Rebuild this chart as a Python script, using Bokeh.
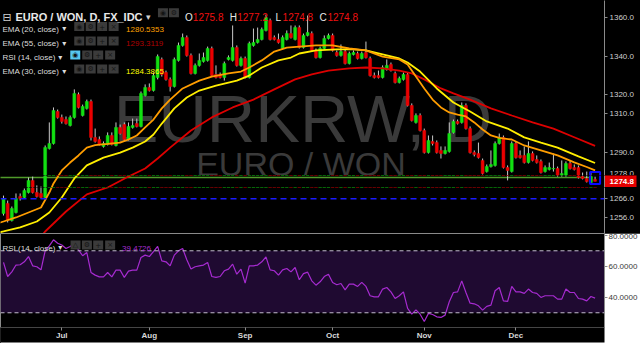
from bokeh.plotting import figure
from bokeh.layouts import column
from bokeh.models import (Range1d, FixedTicker, PrintfTickFormatter, Label, Span,
                          BoxAnnotation, ColumnDataSource)
from bokeh.core.properties import value
from bokeh.embed import file_html
from bokeh.resources import INLINE

# ---------------- data ----------------
opens = [1258.1,1263.3,1254.4,1258.6,1266.9,1266.4,1269.0,1275.3,1269.0,1268.5,
         1266.4,1291.9,1294.5,1311.2,1308.1,1307.0,1303.9,1308.1,1320.1,1309.1,
         1312.8,1316.4,1297.7,1296.6,1293.0,1294.0,1298.7,1293.5,1302.9,1304.4,
         1296.6,1302.9,1304.9,1303.4,1319.5,1323.7,1322.1,1328.9,1338.3,1331.5,
         1327.9,1324.2,1337.8,1345.6,1349.7,1340.4,1331.0,1335.2,1337.2,1337.8,
         1344.0,1330.5,1330.5,1328.9,1338.3,1337.8,1344.5,1335.2,1338.8,1328.9,
         1345.6,1347.1,1348.7,1353.4,1358.6,1349.7,1348.7,1344.0,1348.7,1351.8,
         1348.7,1354.9,1344.5,1350.8,1351.8,1343.0,1339.3,1344.0,1349.2,1350.8,
         1341.9,1340.4,1342.4,1336.2,1340.9,1341.4,1338.8,1341.9,1338.8,1329.9,
         1329.9,1328.9,1333.1,1335.7,1331.0,1326.3,1327.9,1330.5,1314.3,1305.5,
         1309.1,1301.3,1289.8,1295.6,1295.0,1290.9,1289.3,1290.4,1300.3,1306.0,
         1305.5,1314.3,1302.3,1289.8,1289.3,1285.7,1279.9,1282.5,1283.1,1294.5,
         1297.7,1282.0,1279.9,1294.5,1288.3,1288.3,1284.6,1289.3,1286.2,1285.2,
         1279.9,1281.0,1281.3,1281.5,1277.9,1277.9,1284.1,1282.0,1282.0,1277.3,
         1276.3,1274.2,1275.8]
highs = [1267.4,1264.8,1261.7,1268.5,1268.5,1271.1,1276.8,1277.3,1272.7,1272.1,
         1293.5,1305.5,1313.3,1312.2,1309.6,1308.6,1309.1,1322.7,1321.1,1314.8,
         1317.4,1317.4,1302.3,1298.2,1295.6,1300.3,1300.3,1305.5,1304.4,1305.5,
         1305.5,1307.5,1307.5,1321.6,1325.3,1325.8,1331.5,1340.9,1339.3,1332.5,
         1328.9,1339.3,1347.1,1351.8,1350.8,1341.4,1336.2,1341.4,1341.9,1345.0,
         1345.0,1335.2,1331.5,1337.2,1340.4,1356.0,1345.6,1339.8,1339.8,1347.6,
         1354.4,1354.9,1354.9,1361.7,1359.6,1350.8,1351.8,1350.8,1353.4,1356.0,
         1356.0,1356.0,1351.8,1361.2,1352.9,1344.0,1345.0,1350.8,1351.8,1351.8,
         1343.0,1346.1,1343.5,1342.4,1343.0,1342.4,1342.4,1347.6,1339.8,1331.5,
         1332.5,1335.2,1338.3,1336.7,1332.0,1329.4,1331.5,1331.5,1315.4,1310.2,
         1310.2,1302.3,1298.7,1298.7,1296.1,1293.0,1293.0,1305.5,1307.0,1307.0,
         1315.9,1315.4,1303.4,1290.9,1295.0,1286.7,1283.6,1290.9,1295.6,1299.7,
         1298.7,1283.1,1295.6,1295.6,1290.9,1293.0,1295.6,1290.4,1288.3,1286.2,
         1283.1,1284.6,1289.3,1282.5,1285.7,1285.2,1285.7,1283.6,1283.1,1279.4,
         1279.9,1279.4,1277.2]
lows = [1257.0,1253.4,1253.9,1258.1,1264.8,1265.9,1268.5,1268.5,1266.4,1265.9,
        1265.9,1291.4,1294.0,1307.5,1304.9,1304.4,1303.4,1307.5,1312.8,1308.6,
        1312.2,1296.1,1295.0,1293.5,1292.4,1293.5,1293.5,1293.0,1299.2,1295.6,
        1296.1,1302.3,1302.9,1302.9,1319.0,1321.6,1321.6,1327.9,1329.4,1327.3,
        1321.6,1323.7,1337.2,1345.0,1339.8,1330.5,1330.5,1334.6,1336.7,1337.2,
        1329.4,1328.4,1328.4,1327.3,1337.8,1337.2,1334.6,1334.6,1328.4,1328.4,
        1345.0,1346.6,1348.2,1352.9,1348.2,1348.2,1346.6,1343.5,1348.2,1349.2,
        1348.2,1344.0,1344.0,1350.3,1342.4,1338.8,1338.8,1343.5,1348.7,1342.4,
        1339.8,1339.8,1335.7,1335.7,1340.4,1338.3,1338.3,1338.8,1329.4,1328.4,
        1328.4,1328.4,1332.5,1332.0,1325.8,1325.8,1327.3,1313.8,1306.0,1304.9,
        1300.8,1289.3,1289.3,1293.5,1289.3,1286.7,1288.8,1289.8,1299.7,1304.4,
        1304.9,1301.8,1289.3,1287.8,1286.7,1278.4,1279.4,1282.0,1282.5,1294.0,
        1281.5,1275.3,1279.4,1286.7,1286.7,1284.1,1284.1,1285.2,1284.1,1278.9,
        1279.4,1280.5,1279.9,1277.3,1277.3,1277.3,1281.0,1280.5,1276.3,1275.8,
        1274.2,1273.7,1274.8]
closes = [1265.9,1254.4,1260.7,1265.9,1265.9,1270.0,1275.3,1269.0,1266.9,1266.4,
          1292.4,1294.5,1311.7,1308.1,1306.0,1304.9,1308.1,1320.6,1313.3,1313.8,
          1316.4,1297.7,1295.6,1294.0,1294.5,1298.7,1294.0,1302.9,1299.7,1296.6,
          1303.4,1303.9,1303.4,1320.6,1323.7,1322.1,1329.9,1339.8,1330.5,1327.9,
          1324.2,1338.3,1345.6,1349.7,1340.4,1331.0,1335.2,1337.8,1339.3,1344.0,
          1329.9,1328.9,1328.9,1336.2,1339.3,1344.5,1335.2,1338.8,1328.9,1346.6,
          1347.1,1348.7,1353.9,1360.1,1348.7,1348.7,1347.1,1349.7,1351.8,1349.7,
          1354.9,1344.5,1350.8,1352.3,1343.0,1339.3,1344.0,1349.2,1350.8,1343.0,
          1340.4,1342.4,1336.2,1341.4,1341.9,1338.8,1341.4,1339.3,1329.9,1328.9,
          1328.9,1334.1,1335.2,1332.5,1326.3,1328.4,1330.5,1314.3,1306.5,1309.1,
          1301.3,1289.8,1296.1,1294.5,1289.8,1289.3,1290.9,1299.7,1306.0,1304.9,
          1314.3,1302.3,1289.8,1288.8,1287.2,1278.9,1282.5,1283.6,1294.5,1297.7,
          1282.0,1280.5,1294.5,1287.2,1287.2,1284.6,1289.3,1285.7,1284.6,1279.4,
          1282.0,1282.0,1281.5,1277.9,1278.9,1284.1,1281.5,1281.0,1276.8,1276.3,
          1274.7,1277.3,1274.8]

ema20_idx = [-1,0,3,6,9,11,12,14,16,18,20,22,25,28,30,32,34,36,38,40,43,47,50,54,57,59,62,65,68,71,
             75,79,83,87,91,95,97,99,101,103,105,107,109,111,113,115,117,119,122,125,129,133,137,140,142]
ema20_val = [1253.2,1253.9,1256.0,1258.6,1261.2,1269.0,1273.7,1280.5,1284.6,1288.3,1292.4,1293.7,1294.3,
             1295.0,1296.6,1298.7,1302.9,1307.0,1312.8,1317.4,1323.2,1327.3,1329.4,1331.0,1332.0,1334.1,
             1337.8,1342.4,1344.5,1345.0,1345.6,1345.6,1344.0,1343.0,1339.8,1338.3,1335.7,1329.4,1323.2,
             1317.4,1313.3,1310.7,1309.6,1308.6,1305.5,1301.8,1298.7,1297.4,1296.6,1293.5,1290.9,1288.3,
             1284.7,1282.3,1280.5353]
ema30_idx = [-1,0,4,8,11,14,17,20,24,28,31,34,36,38,41,44,47,51,56,59,62,66,69,71,75,80,84,87,91,95,
             97,100,104,108,112,116,121,125,129,133,138,142]
ema30_val = [1248.2,1248.7,1250.8,1253.9,1258.6,1266.4,1276.3,1283.1,1287.2,1289.8,1292.4,1295.6,1299.2,
             1304.9,1312.8,1318.5,1322.1,1324.7,1327.3,1329.9,1334.1,1337.8,1339.3,1341.4,1343.0,1343.5,
             1343.5,1343.0,1340.9,1338.8,1336.7,1332.0,1323.2,1315.9,1311.2,1306.0,1302.3,1297.7,1295.0,
             1292.4,1287.8,1284.3865]
ema55_idx = [7,10,15,20,25,30,34,37,40,45,50,55,60,65,70,74,78,83,87,91,95,98,101,105,108,112,117,122,
             127,132,137,142]
ema55_val = [1240.4,1248.7,1259.1,1268.0,1271.6,1277.3,1281.5,1286.7,1292.4,1301.3,1308.1,1313.3,1317.4,
             1322.7,1327.9,1330.5,1332.5,1333.6,1334.1,1333.6,1332.5,1331.0,1327.9,1323.2,1320.6,1317.4,
             1312.8,1309.1,1305.5,1302.3,1297.8,1293.3119]

rsi = [62.5,53.4,56.4,60.8,61.0,62.9,66.3,60.3,59.7,57.7,
       70.0,73.2,77.1,74.9,73.7,71.5,72.8,74.5,70.6,66.8,
       68.9,56.0,54.3,53.2,53.2,56.0,53.2,57.5,57.5,52.8,
       56.9,57.5,57.5,65.7,67.2,66.3,69.4,72.8,63.5,62.9,
       60.3,67.2,70.0,71.5,64.2,58.2,59.7,60.3,60.8,62.5,
       53.4,52.8,53.4,57.1,58.2,61.4,54.9,58.2,49.1,60.3,
       60.3,60.8,62.9,66.1,57.7,57.1,54.3,57.7,58.6,56.4,
       59.2,51.3,55.3,56.2,50.6,47.8,50.0,53.4,54.9,49.6,
       48.1,48.9,44.8,48.5,48.5,47.0,49.6,47.0,41.0,40.3,
       40.3,45.3,46.3,43.5,39.2,41.0,43.5,32.8,29.1,31.9,
       29.1,24.4,29.6,28.9,27.4,27.0,28.5,37.1,43.1,43.5,
       50.6,43.1,36.2,35.8,34.5,31.7,34.1,34.9,44.2,46.3,
       37.7,37.3,47.0,43.5,43.5,42.5,45.3,43.1,42.5,39.9,
       41.0,41.0,41.0,38.8,38.8,45.3,43.1,43.1,39.2,38.8,
       37.7,40.5,39.4726]

month_idx = [14, 35, 58, 79, 101, 123]
month_labels = ["Jul", "Aug", "Sep", "Oct", "Nov", "Dec"]
price_ticks = [1256, 1266, 1278, 1290, 1310, 1320, 1340, 1360]
rsi_ticks = [40, 60, 80]
rsi_bands = [30, 70]
support_level = 1276.8
dashed_level = 1265.7

# ---------------- layout constants ----------------
FRAME_W = 606
PRICE_H = 233
BAND_TOP, BAND_BOT = 175, 187          # pixel rows of the last-price band
RSI_H = 110
RSI_FRAME_H = 94
X0, X1 = -0.72, 144.26
PY0, PY1 = 1247.65, 1369.0
RY0, RY1 = 20.5, 81.16

GREEN = "#12e012"
RED = "#ea0000"
FONT = "Liberation Sans"
AX = "#8a8a8a"


def sx(px):
    return X0 + px * (X1 - X0) / FRAME_W


def py(pix):
    return PY1 - pix * (PY1 - PY0) / PRICE_H


def ry(pix):
    return RY1 - (pix - PRICE_H) * (RY1 - RY0) / RSI_FRAME_H


def lbl(fig, x, y, text, size, color, bold=False, font=FONT, align="left",
        baseline="alphabetic", level="overlay"):
    fig.add_layout(Label(x=x, y=y, text=text, text_font=font,
                         text_font_size=f"{size}px", text_color=color,
                         text_font_style="bold" if bold else "normal",
                         text_align=align, text_baseline=baseline, level=level))


idx = list(range(len(closes)))
src = ColumnDataSource(dict(
    x=idx, h=highs, l=lows,
    top=[max(o, c) for o, c in zip(opens, closes)],
    bot=[min(o, c) for o, c in zip(opens, closes)],
    color=[GREEN if c >= o else RED for o, c in zip(opens, closes)],
))
last = idx[-1]
mid = (max(highs[-2:]) + min(lows[-2:])) / 2
x_range = Range1d(X0, X1)


def price_pane(pix_top, pix_bot, ticks, label_bg=None):
    f = figure(width=640, height=pix_bot - pix_top, x_range=x_range,
               y_range=Range1d(py(pix_bot), py(pix_top)),
               output_backend="svg", toolbar_location=None, title=None,
               y_axis_location="right", x_axis_location=None,
               min_border_left=0, min_border_right=34, min_border_top=0, min_border_bottom=0,
               background_fill_color="black", border_fill_color="black", outline_line_color=None,
               styles={"background-color": "black"})
    f.grid.visible = False
    a = f.yaxis[0]
    a.ticker = FixedTicker(ticks=ticks)
    a.formatter = PrintfTickFormatter(format="%.1f")
    a.major_label_text_font = FONT
    a.major_label_text_font_size = "8px"
    a.axis_line_color = AX
    a.major_tick_in = 0
    a.minor_tick_out = 0
    a.minor_tick_in = 0
    a.major_label_standoff = 2
    if label_bg:
        a.background_fill_color = label_bg
        a.major_label_text_color = "white"
        a.major_label_text_font_style = "bold"
        a.major_tick_out = 0
        a.major_label_standoff = 5
    else:
        a.major_label_text_color = "#cfcfcf"
        a.major_tick_line_color = AX
        a.major_tick_out = 3

    f.segment(x0=[-1], y0=[support_level], x1=[141.3], y1=[support_level],
              line_color="#4f9a2a", line_width=1.5)
    f.add_layout(Span(location=dashed_level, dimension="width", line_color="#1a1aff",
                      line_dash="6 4", line_width=1.5))
    f.segment(x0="x", y0="l", x1="x", y1="h", source=src, line_color="#c8c8c8", line_width=1)
    f.vbar(x="x", width=0.7, top="top", bottom="bot", fill_color="color",
           line_color="color", line_width=0.5, source=src)
    f.line(ema55_idx, ema55_val, line_color="#dd0000", line_width=1.8)
    f.line(ema30_idx, ema30_val, line_color="#ffee00", line_width=1.8)
    f.line(ema20_idx, ema20_val, line_color="#ff9d00", line_width=1.8)
    f.rect(x=[last], y=[mid], width=10, height=12, width_units="screen", height_units="screen",
           fill_alpha=0, line_color="#0a0aff", line_width=2)
    return f


top_ticks = [t for t in price_ticks if py(BAND_TOP) <= t]
bot_ticks = [t for t in price_ticks if t <= py(BAND_BOT)]
p_top = price_pane(0, BAND_TOP, top_ticks)
p_band = price_pane(BAND_TOP, BAND_BOT, [closes[-1]], label_bg="#e60000")
p_bot = price_pane(BAND_BOT, PRICE_H, bot_ticks)

p = p_top
# watermark
lbl(p, sx(303.5), py(118), "EURKRW, D", 67, "#3a3a3a", align="center", level="underlay")
lbl(p, sx(301.5), py(163), "EURO / WON", 34, "#3a3a3a", align="center", level="underlay")

# legend rows
lbl(p, sx(2), py(17), "\u229f", 11, "#d0d0d0", font="DejaVu Sans")
lbl(p, sx(15), py(16.7), "EURO / WON, D, FX_IDC", 11, "#e8e8e8", bold=True)
lbl(p, sx(146), py(16), "\u25be", 9, "#d0d0d0", font="DejaVu Sans")
ohlc = [("O", opens[-1], 185, 193), ("H", highs[-1], 230, 237.5),
        ("L", lows[-1], 276, 283), ("C", closes[-1], 320, 328)]
for letter, v, xl, xv in ohlc:
    lbl(p, sx(xl), py(16.7), letter, 10, "#e8e8e8")
    lbl(p, sx(xv), py(16.7), f"{v:.1f}", 10, "#ee1111")

box_x, box_y, box_c, sym_t = [], [], [], []
for cx, s in zip([163, 174], ["\u25c9", "\u2699"]):
    box_x.append(sx(cx)); box_y.append(py(12.3)); box_c.append("#3b3b3b"); sym_t.append(s)

rows = [("EMA (20, close)", ema20_val[-1], "#ffa000", 28.7, [79, 90.5, 102, 113.5], 62),
        ("EMA (55, close)", ema55_val[-1], "#b00000", 43.3, [79, 90.5, 102, 113.5], 62),
        ("RSI (14, close)", None, None, 57.2, [75, 87, 98, 110], 58),
        ("EMA (30, close)", ema30_val[-1], "#ffff00", 71.3, [79, 90.5, 102, 113.5], 62)]
symbols = ["\u25c9", "\u2699", "+", "\u00d7"]
for name, v, col, base, bxs, tri in rows:
    lbl(p, sx(2), py(base), name, 8, "#dcdcdc")
    lbl(p, sx(tri), py(base - 0.5), "\u25be", 8, "#dcdcdc", font="DejaVu Sans")
    for k, (cx, s) in enumerate(zip(bxs, symbols)):
        box_x.append(sx(cx)); box_y.append(py(base - 2.7)); sym_t.append(s)
        box_c.append("#56c8f0" if (v is None and k == 0) else "#3b3b3b")
    if v is not None:
        lbl(p, sx(126), py(base), f"{v:.4f}", 8, col)

bsrc = ColumnDataSource(dict(x=box_x, y=box_y, c=box_c, t=sym_t))
p.rect(x="x", y="y", width=10, height=9, width_units="screen", height_units="screen",
       fill_color="c", line_color=None, source=bsrc)
p.text(x="x", y="y", text="t", source=bsrc, text_font=value("DejaVu Sans"),
       text_font_size=value("7px"), text_color="#141414", text_align="center",
       text_baseline="middle")

# ---------------- RSI pane ----------------
r = figure(width=640, height=RSI_H, x_range=x_range, y_range=Range1d(RY0, RY1),
           output_backend="svg", toolbar_location=None, title=None,
           y_axis_location="right",
           min_border_left=0, min_border_right=34, min_border_top=0, min_border_bottom=16,
           background_fill_color="black", border_fill_color="white",
           outline_line_color=AX)
r.grid.visible = False

r.add_layout(BoxAnnotation(bottom=rsi_bands[0], top=rsi_bands[1], fill_color="#1f0a31",
                           fill_alpha=1, line_color=None, level="underlay"))
for lv in rsi_bands:
    r.add_layout(Span(location=lv, dimension="width", line_color="#c4bccf",
                      line_dash="4 3", line_width=1))
r.line(idx, rsi, line_color="#a62bd0", line_width=1.2)

ry_ax = r.yaxis[0]
ry_ax.ticker = FixedTicker(ticks=rsi_ticks)
ry_ax.formatter = PrintfTickFormatter(format="%.4f")
ry_ax.major_label_text_font = FONT
ry_ax.major_label_text_font_size = "8px"
ry_ax.major_label_text_color = "#3a3a3a"
ry_ax.axis_line_color = AX
ry_ax.major_tick_line_color = AX
ry_ax.major_tick_out = 3
ry_ax.major_tick_in = 0
ry_ax.minor_tick_out = 0
ry_ax.minor_tick_in = 0
ry_ax.major_label_standoff = 1

xa = r.xaxis[0]
xa.ticker = FixedTicker(ticks=month_idx)
xa.major_label_overrides = {i: m for i, m in zip(month_idx, month_labels)}
xa.major_label_text_font = FONT
xa.major_label_text_font_size = "8px"
xa.major_label_text_font_style = "bold"
xa.major_label_text_color = "#d8d8d8"
xa.axis_line_color = None
xa.major_tick_line_color = AX
xa.major_tick_out = 3
xa.major_tick_in = 0
xa.minor_tick_out = 0
xa.minor_tick_in = 0
xa.major_label_standoff = 0
xa.background_fill_color = "black"

# RSI legend
lbl(r, sx(2), ry(247.5), "RSI (14, close)", 8, "#dcdcdc")
lbl(r, sx(58), ry(247), "\u25be", 8, "#dcdcdc", font="DejaVu Sans")
rb_x = [sx(c) for c in [75.3, 86.7, 98, 110]]
rb_y = [ry(244.5)] * 4
rsrc = ColumnDataSource(dict(x=rb_x, y=rb_y, t=["\u25b3", "\u2699", "+", "\u00d7"]))
r.rect(x="x", y="y", width=10, height=9, width_units="screen", height_units="screen",
       fill_color="#3b3b3b", line_color=None, source=rsrc)
r.text(x="x", y="y", text="t", source=rsrc, text_font=value("DejaVu Sans"),
       text_font_size=value("7px"), text_color="#141414", text_align="center",
       text_baseline="middle")
lbl(r, sx(122), ry(247.5), f"{rsi[-1]:.4f}", 8, "#a62bd0")

layout = column(p_top, p_band, p_bot, r, spacing=0, styles={"background-color": "black"})
open("out.html", "w").write(file_html(layout, INLINE))
